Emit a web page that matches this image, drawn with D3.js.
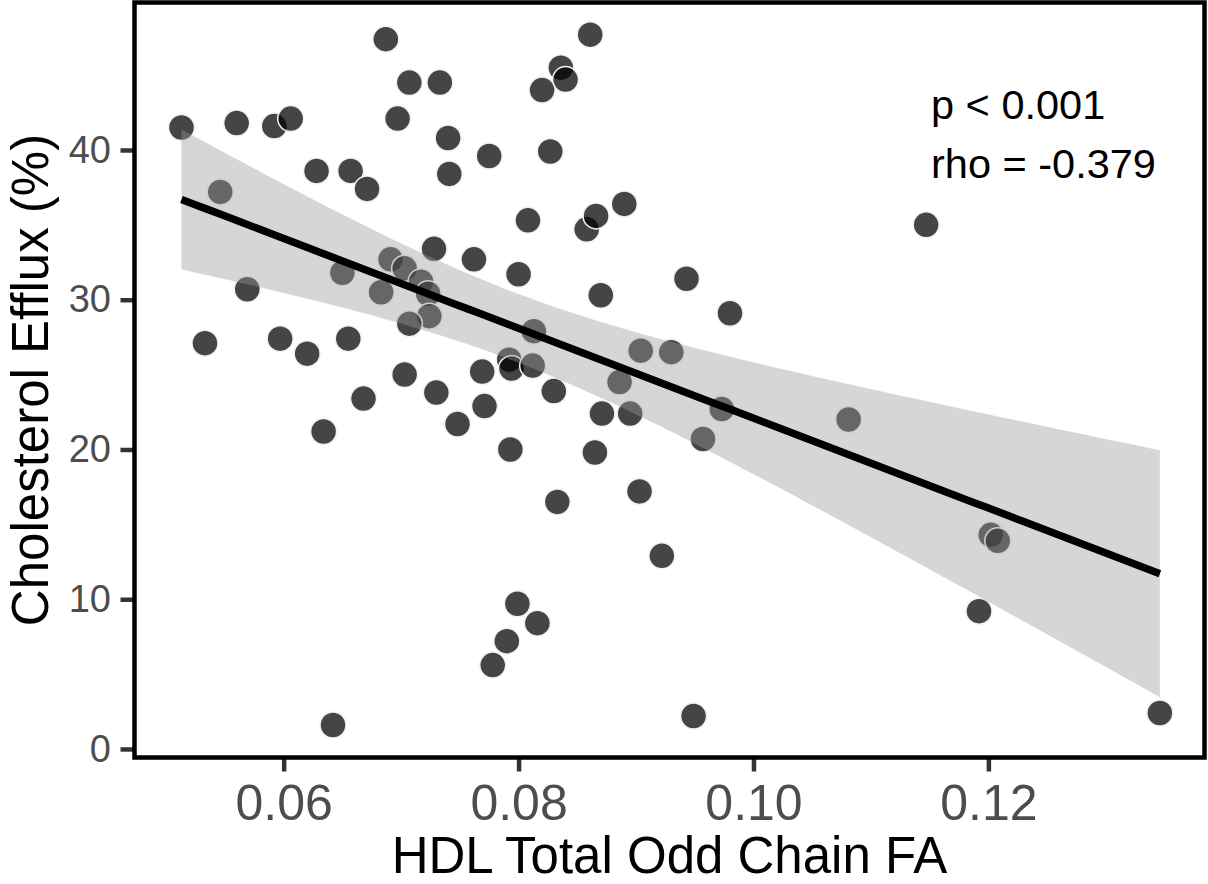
<!DOCTYPE html>
<html>
<head>
<meta charset="utf-8">
<script src="https://cdn.jsdelivr.net/npm/d3@7"></script>
<style>
    body { margin: 0; background: #fff; }
    text { font-family: "Liberation Sans", Arial, sans-serif; }
</style>
</head>
<body>
<div id="chart"></div>
<script>
// values: HDL total odd chain FA vs cholesterol efflux (%)
const oddChainFA = [
    0.0513, 0.0560, 0.0592, 0.0606, 0.0546, 0.0628, 0.0657, 0.0671, 0.0687, 0.0707,
    0.0733, 0.0697, 0.0740, 0.0741, 0.0775, 0.0808, 0.0728, 0.0762, 0.0800, 0.0691,
    0.0703, 0.0717, 0.0723, 0.0650, 0.0683, 0.0569, 0.0724, 0.0707, 0.0533, 0.0597,
    0.0620, 0.0655, 0.0703, 0.0769, 0.0792, 0.0794, 0.0812, 0.0668, 0.0730, 0.0771,
    0.0748, 0.0793, 0.0634, 0.0799, 0.0816, 0.0790, 0.0778, 0.0642, 0.0861, 0.0836,
    0.0840, 0.0820, 0.0827, 0.0858, 0.0866, 0.0890, 0.0870, 0.0943, 0.0980, 0.0813,
    0.0904, 0.0930, 0.0886, 0.0830, 0.0871, 0.0895, 0.0973, 0.0957, 0.1081, 0.0865,
    0.0903, 0.0833, 0.0922, 0.0949, 0.1147, 0.1202, 0.1208, 0.1192, 0.1346
];
const effluxPct = [
    41.5, 41.8, 41.6, 42.1, 37.2, 38.6, 38.6, 37.4, 47.4, 44.5,
    44.5, 42.1, 40.8, 38.4, 39.6, 35.3, 33.4, 32.7, 31.7, 32.7,
    32.1, 31.2, 30.4, 31.8, 30.5, 30.7, 28.9, 28.4, 27.1, 27.4,
    26.4, 27.4, 25.0, 25.2, 26.0, 25.4, 25.6, 23.4, 23.8, 22.9,
    21.7, 20.0, 21.2, 9.7, 8.4, 7.2, 5.6, 1.6, 47.7, 45.5,
    44.7, 44.0, 39.9, 34.7, 35.6, 36.4, 30.3, 31.4, 29.1, 27.9,
    26.6, 26.5, 24.5, 23.9, 22.4, 22.4, 22.7, 20.7, 22.0, 19.8,
    17.2, 16.5, 12.9, 2.2, 35.0, 14.3, 13.9, 9.2, 2.4
];
const xTicks = [0.06, 0.08, 0.10, 0.12];
const yTicks = [0, 10, 20, 30, 40];
const statLabels = ['p < 0.001', 'rho = -0.379'];
const xTitle = 'HDL Total Odd Chain FA';
const yTitle = 'Cholesterol Efflux (%)';

let width = 1208;
let height = 884;
let panelLeft = 134.5, panelRight = 1204.5, panelTop = 2.5, panelBottom = 757.5;

let svg = d3.select('#chart')
    .append('svg')
    .attr('width', width)
    .attr('height', height);

let x = d3.scaleLinear().domain([0.0473, 0.1384]).range([panelLeft, panelRight]);
let y = d3.scaleLinear().domain([-0.57, 49.85]).range([panelBottom, panelTop]);

let points = oddChainFA.map((v, i) => ({ x: v, y: effluxPct[i] }));

// linear fit + 95% confidence band (like geom_smooth(method = "lm"))
let n = points.length;
let mx = d3.mean(oddChainFA);
let my = d3.mean(effluxPct);
let sxx = d3.sum(oddChainFA, v => (v - mx) * (v - mx));
let sxy = d3.sum(points, p => (p.x - mx) * (p.y - my));
let slope = sxy / sxx;
let intercept = my - slope * mx;
let rss = d3.sum(points, p => Math.pow(p.y - (intercept + slope * p.x), 2));
let sigma = Math.sqrt(rss / (n - 2));
let tq = 1.9913; // t(0.975, df = 77)

let [xmin, xmax] = d3.extent(oddChainFA);
let fit = d3.range(80).map(i => {
    let xv = xmin + (xmax - xmin) * i / 79;
    let yv = intercept + slope * xv;
    let se = sigma * Math.sqrt(1 / n + (xv - mx) * (xv - mx) / sxx);
    return { x: xv, y: yv, lo: yv - tq * se, hi: yv + tq * se };
});

// points
svg.append('g')
    .selectAll('circle')
    .data(points)
    .enter()
    .append('circle')
    .attr('cx', d => x(d.x))
    .attr('cy', d => y(d.y))
    .attr('r', 13)
    .attr('fill', 'rgba(0,0,0,0.73)')
    .attr('stroke', '#f2f2f2')
    .attr('stroke-width', 1.5);

// ribbon
svg.append('path')
    .datum(fit)
    .attr('d', d3.area().x(d => x(d.x)).y0(d => y(d.lo)).y1(d => y(d.hi)))
    .attr('fill', '#999999')
    .attr('fill-opacity', 0.4);

// fit line
svg.append('path')
    .datum(fit)
    .attr('d', d3.line().x(d => x(d.x)).y(d => y(d.y)))
    .attr('fill', 'none')
    .attr('stroke', '#000')
    .attr('stroke-width', 7.5);

// axes
let xAxis = svg.append('g')
    .attr('transform', `translate(0,${panelBottom})`)
    .call(d3.axisBottom(x).tickValues(xTicks).tickFormat(d3.format('.2f')).tickSize(14).tickPadding(13));
let yAxis = svg.append('g')
    .attr('transform', `translate(${panelLeft},0)`)
    .call(d3.axisLeft(y).tickValues(yTicks).tickSize(14).tickPadding(9.5));

[xAxis, yAxis].forEach(ax => {
    ax.select('.domain').remove();
    ax.selectAll('.tick line').attr('stroke', '#333333').attr('stroke-width', 4.5);
    ax.selectAll('.tick text').attr('fill', '#4d4d4d');
});
xAxis.selectAll('.tick text').style('font-size', '50px');
yAxis.selectAll('.tick text').style('font-size', '38px');

// panel border
svg.append('rect')
    .attr('x', panelLeft)
    .attr('y', panelTop)
    .attr('width', panelRight - panelLeft)
    .attr('height', panelBottom - panelTop)
    .attr('fill', 'none')
    .attr('stroke', '#000')
    .attr('stroke-width', 4.5);

// stats text
svg.append('g')
    .selectAll('text')
    .data(statLabels)
    .enter()
    .append('text')
    .attr('x', 931)
    .attr('y', (d, i) => 119 + i * 59)
    .style('font-size', '41.5px')
    .attr('fill', '#000')
    .text(d => d);

// axis titles (kept just inside the edges)
svg.append('text')
    .attr('x', (panelLeft + panelRight) / 2)
    .attr('y', 873)
    .attr('text-anchor', 'middle')
    .style('font-size', '51px')
    .text(xTitle);

svg.append('text')
    .attr('transform', `translate(48,${(panelTop + panelBottom) / 2}) rotate(-90)`)
    .attr('text-anchor', 'middle')
    .style('font-size', '51px')
    .text(yTitle);
</script>
</body>
</html>
